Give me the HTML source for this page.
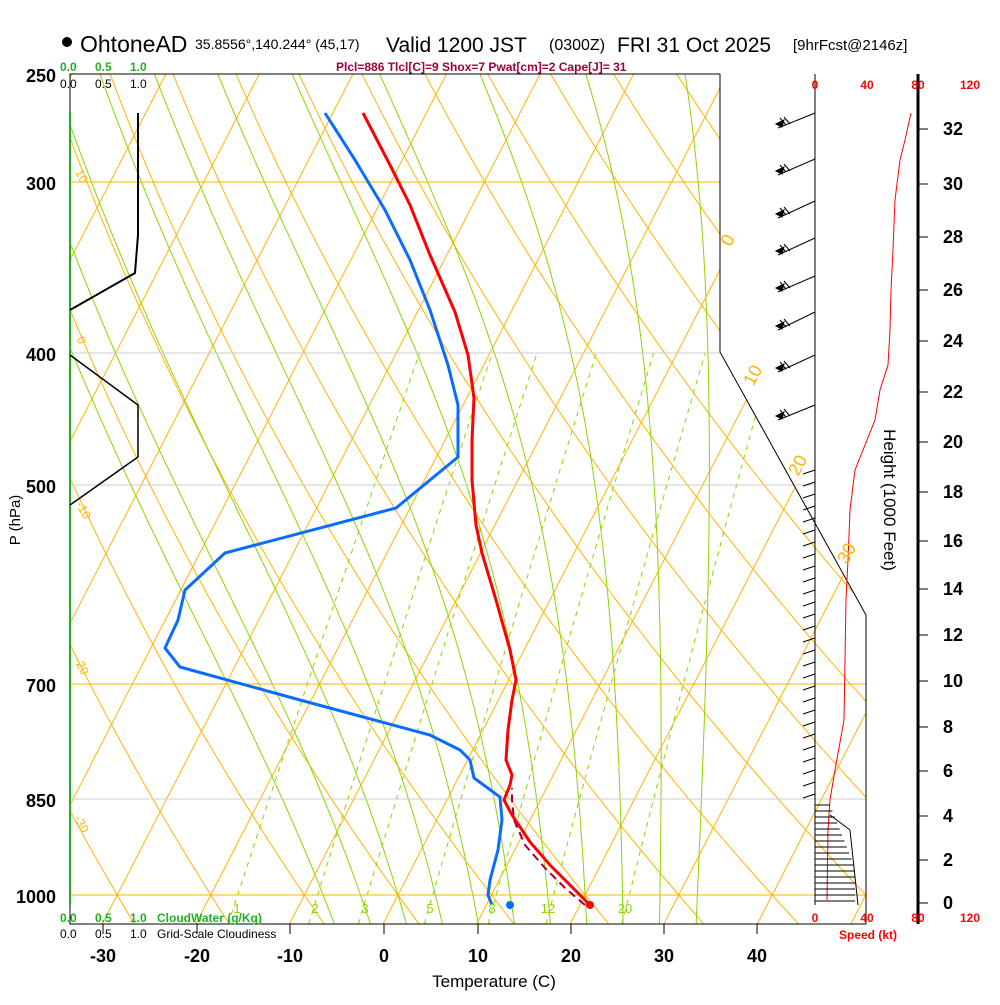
<!DOCTYPE html>
<html><head><meta charset="utf-8"><style>
body{margin:0;background:#fff;}
svg text{font-family:"Liberation Sans",sans-serif;}
</style></head><body>
<svg id="s" width="1000" height="1000" xmlns="http://www.w3.org/2000/svg">
<defs><clipPath id="cp"><polygon points="70,74 720,74 720,352 866,615 866,924 70,924"/></clipPath></defs>
<g id="bg" clip-path="url(#cp)"></g>
<g stroke-width="1">
<line x1="70" y1="182" x2="720" y2="182" stroke="#ffb400"/>
<line x1="70" y1="353" x2="720" y2="353" stroke="#ccc"/>
<line x1="70" y1="485" x2="815" y2="485" stroke="#ccc"/>
<line x1="70" y1="684" x2="866" y2="684" stroke="#ffb400"/>
<line x1="70" y1="799" x2="866" y2="799" stroke="#ccc"/>
<line x1="70" y1="895" x2="866" y2="895" stroke="#ffb400"/>
</g>
<polyline points="720,74 720,352 866,615 866,924 70,924 70,74 720,74" fill="none" stroke="#000" stroke-width="1"/>
<line x1="70" y1="113" x2="70" y2="905" stroke="#22b022" stroke-width="2"/>
<polyline points="138,113 138,235 135,273 70,310" fill="none" stroke="#000" stroke-width="2"/>
<polyline points="70,355 138,405 138,457 70,505" fill="none" stroke="#000" stroke-width="1.5"/>
<polyline points="585,905 565,888 545,868 525,845 514,820 512,800 512,788" fill="none" stroke="#a0003c" stroke-width="2" stroke-dasharray="8,5"/>
<polyline fill="none" stroke="#0a6cff" stroke-width="3" points="325,113 355,160 385,210 410,260 430,310 448,365 458,405 458,457 430,480 396,508 225,553 185,590 178,620 165,648 180,667 300,700 430,735 460,750 470,760 474,778 500,797 502,820 498,850 490,880 488,895 492,905"/>
<circle cx="510" cy="905" r="4" fill="#0a6cff"/>
<polyline fill="none" stroke="#f00" stroke-width="3" points="363,113 390,165 410,205 430,255 455,312 468,355 474,398 472,440 472,480 476,525 482,553 496,600 510,650 516,680 512,700 508,730 506,760 512,775 510,785 504,800 512,815 530,842 550,865 575,890 590,905"/>
<circle cx="590" cy="905" r="4" fill="#f00"/>
<line x1="815" y1="74" x2="815" y2="905" stroke="#000" stroke-width="1"/>
<line x1="918" y1="74" x2="918" y2="924" stroke="#000" stroke-width="3"/>
<polyline fill="none" stroke="#f00" stroke-width="1" points="911,113 905,140 900,160 895,200 893,250 891,290 890,330 888,365 880,390 875,420 865,445 855,470 850,510 848,560 846,600 845,660 844,720 835,770 830,800 828,830 827,900"/>
<g id="barbs" stroke="#000" stroke-width="1" fill="#000"></g>
<g id="hz" stroke="#000" stroke-width="1"></g>
<circle cx="67" cy="42" r="5" fill="#000"/>
<text x="80" y="52" font-size="23">OhtoneAD</text>
<text x="195" y="49" font-size="14">35.8556°,140.244° (45,17)</text>
<text x="386" y="52" font-size="21">Valid 1200 JST</text>
<text x="549" y="50" font-size="16">(0300Z)</text>
<text x="617" y="52" font-size="21">FRI 31 Oct 2025</text>
<text x="793" y="50" font-size="15">[9hrFcst@2146z]</text>
<text x="336" y="71" font-size="12" fill="#a0003c" font-weight="bold">Plcl=886 Tlcl[C]=9 Shox=7 Pwat[cm]=2 Cape[J]= 31</text>
<g font-size="12" fill="#22b022" font-weight="bold"><text x="60" y="71">0.0</text><text x="95" y="71">0.5</text><text x="130" y="71">1.0</text>
<text x="60" y="922">0.0</text><text x="95" y="922">0.5</text><text x="130" y="922">1.0</text><text x="157" y="922">CloudWater (g/Kg)</text></g>
<g font-size="12" fill="#000"><text x="60" y="88">0.0</text><text x="95" y="88">0.5</text><text x="130" y="88">1.0</text>
<text x="60" y="938">0.0</text><text x="95" y="938">0.5</text><text x="130" y="938">1.0</text><text x="157" y="938">Grid-Scale Cloudiness</text></g>
<g font-size="18" font-weight="bold" text-anchor="end"><text x="56" y="82">250</text><text x="56" y="190">300</text><text x="56" y="361">400</text><text x="56" y="493">500</text><text x="56" y="692">700</text><text x="56" y="807">850</text><text x="56" y="903">1000</text></g>
<text transform="translate(20,520) rotate(-90)" font-size="15" text-anchor="middle">P (hPa)</text>
<g font-size="18" font-weight="bold" text-anchor="middle"><text x="103" y="962">-30</text><text x="197" y="962">-20</text><text x="290" y="962">-10</text><text x="384" y="962">0</text><text x="478" y="962">10</text><text x="571" y="962">20</text><text x="664" y="962">30</text><text x="757" y="962">40</text></g>
<g stroke="#000"><line x1="103" y1="924" x2="103" y2="934"/><line x1="197" y1="924" x2="197" y2="934"/><line x1="290" y1="924" x2="290" y2="934"/><line x1="384" y1="924" x2="384" y2="934"/><line x1="478" y1="924" x2="478" y2="934"/><line x1="571" y1="924" x2="571" y2="934"/><line x1="664" y1="924" x2="664" y2="934"/><line x1="757" y1="924" x2="757" y2="934"/></g>
<text x="494" y="987" font-size="17" text-anchor="middle">Temperature (C)</text>
<g font-size="12" fill="#f00" font-weight="bold" text-anchor="middle"><text x="815" y="89">0</text><text x="867" y="89">40</text><text x="918" y="89">80</text><text x="970" y="89">120</text>
<text x="815" y="922">0</text><text x="867" y="922">40</text><text x="918" y="922">80</text><text x="970" y="922">120</text><text x="868" y="939">Speed (kt)</text></g>
<text transform="translate(884,500) rotate(90)" font-size="17" text-anchor="middle">Height (1000 Feet)</text>
<g font-size="18" font-weight="bold" id="hl"></g>
<g font-size="18" fill="#ffb400" text-anchor="middle">
<text transform="translate(733,243) rotate(-62)">0</text>
<text transform="translate(758,378) rotate(-62)">10</text>
<text transform="translate(803,468) rotate(-62)">20</text>
<text transform="translate(852,556) rotate(-62)">30</text></g>
<g font-size="12" fill="#ffb400" text-anchor="middle">
<text transform="translate(78,178) rotate(62)">10</text>
<text transform="translate(78,342) rotate(62)">0</text>
<text transform="translate(80,512) rotate(62)">-10</text>
<text transform="translate(78,668) rotate(62)">-20</text>
<text transform="translate(78,826) rotate(62)">-30</text></g>
<g font-size="13" fill="#8fd400" text-anchor="middle">
<text x="237" y="913">1</text><text x="315" y="913">2</text><text x="365" y="913">3</text><text x="430" y="913">5</text><text x="492" y="913">8</text><text x="548" y="913">12</text><text x="625" y="913">20</text></g>
</svg>
<script>
var NS="http://www.w3.org/2000/svg";
function Y(p){return 74+Math.log(p/250)/Math.log(4)*821;}
function X(T,p){return 383+9.357*T+0.515*(924-Y(p));}
var bg=document.getElementById('bg');
function pl(pts,col,w,dash){var e=document.createElementNS(NS,'polyline');e.setAttribute('points',pts.map(function(a){return a[0].toFixed(1)+','+a[1].toFixed(1)}).join(' '));e.setAttribute('fill','none');e.setAttribute('stroke',col);e.setAttribute('stroke-width',w);if(dash)e.setAttribute('stroke-dasharray',dash);bg.appendChild(e);}
for(var T=-120;T<=60;T+=10){pl([[X(T,1050),Y(1050)],[X(T,150),Y(150)]],'#ffb400',1);}
for(var th=-40;th<=200;th+=10){var pts=[];for(var p=1050;p>=200;p-=10){var t=(th+273.15)*Math.pow(p/1000,0.286)-273.15;pts.push([X(t,p),Y(p)]);}pl(pts,'#ffb400',1);}
function es(t){return 6.112*Math.exp(17.67*t/(t+243.5));}
function dTdp(t,p){var Tk=t+273.15,e=es(t),rs=0.622*e/(p-e),L=2.5e6,Rd=287,cp=1005;return (Rd*Tk+L*rs)/(p*(cp+L*L*rs*0.622/(Rd*Tk*Tk)));}
[-8,-4,0,4,8,12,16,20,24,28,32].forEach(function(tw){var pts=[],t,p;var down=[];t=tw;for(p=1000;p<1050;p+=5){t+=dTdp(t,p)*5;down.push([X(t,p+5),Y(p+5)]);}t=tw;pts.push([X(t,1000),Y(1000)]);for(p=1000;p>200;p-=5){t-=dTdp(t,p)*5;pts.push([X(t,p-5),Y(p-5)]);}pl(down.reverse().concat(pts),'#8fd400',1);});
[1,2,3,5,8,12,20].forEach(function(w){var pts=[];for(var p=1050;p>=400;p-=10){var e=w*p/(622+w),l=Math.log(e/6.112),t=243.5*l/(17.67-l);pts.push([X(t,p),Y(p)]);}pl(pts,'#8fd400',1,'5,5');});
var hz=[[0,903],[2,860],[4,816],[6,771],[8,727],[10,681],[12,635],[14,589],[16,541],[18,492],[20,442],[22,392],[24,341],[26,290],[28,237],[30,184],[32,129]];
var hzg=document.getElementById('hz'),hl=document.getElementById('hl');
hz.forEach(function(h){var l=document.createElementNS(NS,'line');l.setAttribute('x1',918);l.setAttribute('x2',928);l.setAttribute('y1',h[1]);l.setAttribute('y2',h[1]);hzg.appendChild(l);var t=document.createElementNS(NS,'text');t.setAttribute('x',943);t.setAttribute('y',h[1]+6);t.textContent=h[0];hl.appendChild(t);});
var bb=document.getElementById('barbs');
function ln(x1,y1,x2,y2){var l=document.createElementNS(NS,'line');l.setAttribute('x1',x1);l.setAttribute('y1',y1);l.setAttribute('x2',x2);l.setAttribute('y2',y2);bb.appendChild(l);}
function tri(x,y){var e=document.createElementNS(NS,'polygon');e.setAttribute('points',(x)+','+(y)+' '+(x+8)+','+(y-4)+' '+(x+6)+','+(y+3));bb.appendChild(e);}
[[113,128],[159,175],[201,218],[238,255],[276,292],[312,330],[355,372],[405,420]].forEach(function(b){ln(815,b[0],778,b[1]);tri(776,b[1]-4);ln(786,b[1]-3,780,b[1]-10);ln(790,b[1]-4,784,b[1]-11);});
for(var y=470;y<800;y+=12){ln(815,y,803,y+4);}
for(var y=805;y<=905;y+=6){var x2=815+(y-805)*0.4+15; if(x2>855)x2=855; ln(815,y,x2,y);}
ln(830,815,850,830);ln(850,830,858,905);
</script>
</body></html>
